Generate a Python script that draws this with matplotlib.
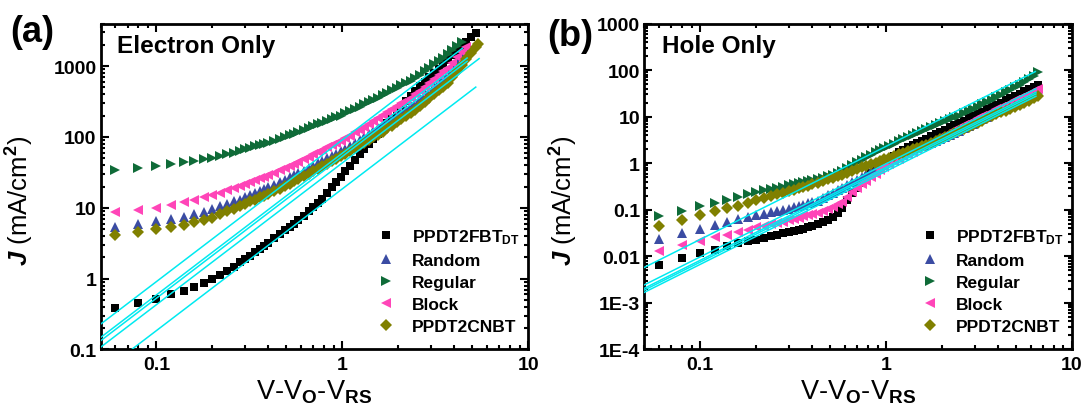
import matplotlib.pyplot as plt
import numpy as np
from matplotlib.ticker import FixedLocator, FixedFormatter, FuncFormatter, LogLocator, NullFormatter

plt.rcParams['font.family'] = ['Liberation Sans', 'DejaVu Sans']
plt.rcParams['font.weight'] = 'bold'
plt.rcParams['mathtext.fontset'] = 'custom'
plt.rcParams['mathtext.rm'] = 'Liberation Sans:bold'
plt.rcParams['mathtext.bf'] = 'Liberation Sans:bold'
plt.rcParams['mathtext.it'] = 'Liberation Sans:italic:bold'
plt.rcParams['mathtext.default'] = 'bf'

labels = [r'PPDT2FBT$_{DT}$', 'Random', 'Regular', 'Block', 'PPDT2CNBT']

# measured voltage points (V - Vo - Vrs)
v_b = [0.06, 0.08, 0.10, 0.12, 0.14, 0.16, 0.18, 0.20, 0.22, 0.24, 0.26, 0.28, 0.30,
       0.32, 0.34, 0.36, 0.38, 0.40, 0.43, 0.46, 0.49, 0.52, 0.55, 0.58,
       0.62, 0.66, 0.70, 0.74, 0.78, 0.83, 0.88, 0.93, 0.98,
       1.04, 1.10, 1.17, 1.24, 1.31, 1.39, 1.47, 1.56,
       1.65, 1.75, 1.85, 1.96, 2.08, 2.20, 2.33,
       2.47, 2.62, 2.78, 2.94, 3.12, 3.30, 3.50, 3.70,
       3.92, 4.15, 4.40, 4.66, 4.94, 5.23, 5.54, 5.87, 6.22, 6.60]
v_a = v_b[:61] + [5.23, 5.35]

# (a) electron only, J in mA/cm2
j_a_fbt = [0.39, 0.45, 0.52, 0.60, 0.67, 0.77, 0.88, 1.0, 1.12, 1.3, 1.48, 1.7, 1.9,
           2.12, 2.38, 2.65, 2.92, 3.2, 3.73, 4.25, 4.8, 5.37, 6.0, 6.7,
           7.75, 9.0, 10.3, 11.7, 13.5, 16.4, 19.5, 23.1, 27.1,
           32.7, 39, 47.4, 56.9, 67.4, 80, 94, 112,
           132, 159, 187, 223, 267, 317, 378,
           450, 520, 600, 695, 800, 920, 1075, 1240,
           1430, 1650, 1915, 2210, 2560, 2960]
j_a_random = [5.4, 5.9, 6.5, 6.9, 7.5, 8.1, 8.8, 9.6, 10.5, 11.4, 12.3, 13.1, 14.1,
              15.2, 16.3, 17.4, 18.5, 19.6, 21.3, 23.0, 24.9, 26.9, 28.9, 30.9,
              33.6, 36.3, 39.3, 42.4, 45.6, 49.7, 53.9, 58.2, 62.5,
              68.1, 74.8, 82.9, 91.3, 100, 110, 121, 134,
              148, 164, 181, 201, 223, 246, 273,
              304, 348, 399, 453, 520, 591, 675, 768,
              927, 1128, 1383, 1682]
j_a_regular = [34.5, 36, 39, 41.5, 44, 46, 48.5, 51, 54, 57, 60, 63.5, 66.7,
               70, 73.5, 76.8, 80, 83.3, 88, 93.7, 99.8, 106, 112, 118,
               126, 134.5, 143, 151, 159.5, 170, 180, 190, 200,
               214.6, 230, 249, 268, 288, 310, 333, 359,
               388, 420, 454, 491, 534, 576, 624,
               681, 762, 852, 948, 1061, 1180, 1320, 1468,
               1667, 1897, 2165]
j_a_block = [8.6, 9.3, 10, 10.9, 11.9, 13.0, 14, 15, 16.3, 17.6, 18.9, 20.2, 21.7,
             23.1, 24.5, 26, 27.4, 28.9, 31.1, 33.7, 36.5, 39.3, 42.1, 45,
             49, 52.9, 57.1, 61.4, 65.7, 71.2, 76.7, 82.4, 88.2,
             95.5, 104.7, 115.9, 127.5, 139.5, 153.6, 168.5, 185.7,
             204, 225, 246, 271, 298, 327, 359,
             399, 453, 515, 581, 661, 746, 846, 956,
             1124, 1332, 1586, 1877]
j_a_cnbt = [4.2, 4.6, 5.0, 5.4, 5.8, 6.3, 6.8, 7.3, 8.1, 8.9, 9.7, 10.5, 11.4,
            12.3, 13.1, 14.0, 14.9, 15.8, 17.1, 18.7, 20.3, 22.0, 23.7, 25.5,
            27.9, 30.4, 33.0, 35.7, 38.5, 42.0, 45.6, 49.4, 53.2,
            57.9, 63.1, 69.4, 75.9, 82.6, 90.5, 98.6, 108,
            119, 132, 145, 161, 179, 197, 218,
            243, 276, 314, 354, 402, 454, 515, 581,
            700, 852, 1044, 1270, 1553, 1893, 2046]
# SCLC fits J = k V^2 : coefficient and last voltage of each line
fit_k_a = [91, 59, 53, 43, 18.5]
fit_end_a = [4.43, 4.7, 4.7, 5.45, 5.23]

# (b) hole only
j_b_fbt = [0.0066, 0.0092, 0.0116, 0.0138, 0.0165, 0.019, 0.021, 0.023, 0.025, 0.027, 0.029, 0.031, 0.033,
           0.035, 0.037, 0.039, 0.042, 0.044, 0.049, 0.054, 0.06, 0.07, 0.085, 0.11,
           0.16, 0.23, 0.3, 0.38, 0.48, 0.62, 0.77, 0.92, 1.08,
           1.25, 1.45, 1.7, 1.95, 2.2, 2.5, 2.75, 3.05,
           3.39, 3.8, 4.22, 4.72, 5.29, 5.89, 6.58,
           7.36, 8.24, 9.23, 10.3, 11.5, 12.8, 14.4, 16.0,
           17.9, 19.9, 22.3, 24.9, 27.8, 31.1, 34.7, 38.8, 43.4, 48.5]
j_b_random = [0.024, 0.031, 0.039, 0.047, 0.056, 0.064, 0.071, 0.078, 0.083, 0.088, 0.093, 0.098, 0.106,
              0.114, 0.121, 0.129, 0.137, 0.145, 0.157, 0.179, 0.204, 0.232, 0.262, 0.293,
              0.338, 0.387, 0.447, 0.514, 0.586, 0.686, 0.794, 0.914, 1.04,
              1.2, 1.33, 1.5, 1.64, 1.8, 1.98, 2.12, 2.3,
              2.48, 2.75, 3.03, 3.35, 3.71, 4.09, 4.52,
              5.0, 5.63, 6.34, 7.09, 7.98, 8.93, 10.0, 11.2,
              12.6, 14.1, 15.9, 17.8, 20.0, 22.4, 25.2, 28.2, 31.7, 35.7]
j_b_regular = [0.074, 0.095, 0.12, 0.143, 0.165, 0.19, 0.215, 0.24, 0.26, 0.28, 0.30, 0.316, 0.335,
               0.354, 0.372, 0.391, 0.409, 0.427, 0.455, 0.49, 0.53, 0.57, 0.62, 0.68,
               0.78, 0.9, 1.05, 1.2, 1.35, 1.52, 1.7, 1.9, 2.1,
               2.35, 2.65, 2.95, 3.3, 3.65, 4.0, 4.4, 4.85,
               5.3, 5.9, 6.5, 7.2, 8.0, 8.8, 9.6,
               10.5, 11.7, 13.0, 14.5, 16.3, 18.3, 20.6, 23.3,
               26.3, 29.6, 33.5, 38, 43, 48.5, 55, 63, 74, 92]
j_b_block = [0.013, 0.0175, 0.021, 0.0255, 0.029, 0.033, 0.037, 0.042, 0.045, 0.049, 0.052, 0.056, 0.06,
             0.064, 0.068, 0.072, 0.076, 0.08, 0.087, 0.095, 0.104, 0.115, 0.13, 0.15,
             0.19, 0.24, 0.3, 0.36, 0.42, 0.5, 0.6, 0.7, 0.82,
             0.95, 1.09, 1.24, 1.4, 1.57, 1.78, 1.99, 2.25,
             2.52, 2.85, 3.2, 3.6, 4.05, 4.55, 5.1,
             5.75, 6.5, 7.3, 8.15, 9.15, 10.2, 11.5, 12.8,
             14.3, 16.0, 17.9, 20.0, 22.4, 25.0, 28.0, 31.3, 35.0, 39.5]
j_b_cnbt = [0.045, 0.061, 0.078, 0.095, 0.108, 0.122, 0.14, 0.16, 0.177, 0.195, 0.213, 0.232, 0.25,
            0.27, 0.29, 0.31, 0.33, 0.35, 0.38, 0.42, 0.455, 0.49, 0.52, 0.56,
            0.61, 0.67, 0.75, 0.81, 0.87, 0.95, 1.03, 1.12, 1.22,
            1.32, 1.41, 1.54, 1.68, 1.82, 1.98, 2.15, 2.32,
            2.51, 2.77, 3.05, 3.35, 3.7, 4.0, 4.4,
            4.85, 5.4, 6.0, 6.7, 7.4, 8.2, 9.2, 10.2,
            11.2, 12.3, 13.5, 14.8, 16.2, 17.7, 19.6, 22.0, 24.6, 27.5]
fit_k_b = [2.3, 0.97, 0.82, 0.75, 0.67]
fit_end_b = [6.35, 6.4, 6.4, 6.4, 6.4]

yticks_b = [1e-4, 1e-3, 0.01, 0.1, 1, 10, 100, 1000]
yticklabels_b = ['1E-4', '1E-3', '0.01', '0.1', '1', '10', '100', '1000']

colors = ['#000000', '#3b4ca3', '#0f6b38', '#ff45b8', '#808000']
markers = ['s', '^', '>', '<', 'D']
msizes = [6, 7.5, 7.5, 7.5, 6.3]

fig = plt.figure(figsize=(10.87, 4.14), dpi=100)
ax_a = fig.add_axes([0.0925, 0.1534, 0.3933, 0.7874])
ax_b = fig.add_axes([0.5925, 0.1534, 0.3937, 0.7874])

panels = [
    (ax_a, v_a, [j_a_fbt, j_a_random, j_a_regular, j_a_block, j_a_cnbt], fit_k_a, fit_end_a),
    (ax_b, v_b, [j_b_fbt, j_b_random, j_b_regular, j_b_block, j_b_cnbt], fit_k_b, fit_end_b),
]

for ax, v, series, ks, ends in panels:
    for j, lab, c, m, ms in zip(series, labels, colors, markers, msizes):
        ax.plot(v[:len(j)], j, linestyle='none', marker=m, ms=ms, color=c,
                markeredgewidth=0, label=lab)
    for k, e in zip(ks, ends):
        xs = np.array([0.045, e])
        ax.plot(xs, k * xs**2, color='#00eaf0', lw=1.1, zorder=5)
    ax.set_xscale('log')
    ax.set_yscale('log')
    ax.set_xlim(0.05, 10)
    ax.xaxis.set_major_formatter(FuncFormatter(lambda val, _: '%g' % val))
    ax.xaxis.set_minor_formatter(NullFormatter())
    ax.tick_params(which='both', direction='in', top=True, right=True, width=1.5,
                   labelsize=14)
    ax.tick_params(which='major', length=6)
    ax.tick_params(which='minor', length=3)
    ax.tick_params(axis='y', pad=3)
    ax.tick_params(axis='x', pad=5)
    for sp in ax.spines.values():
        sp.set_linewidth(2)
    ax.set_xlabel(r'V-V$_{O}$-V$_{RS}$', fontsize=19.5, labelpad=3)
    ax.set_ylabel(r'$\mathit{J}$ (mA/cm$^{2}$)', fontsize=18.5)
    ax.yaxis.set_label_coords(-0.15, 0.46)
    ax.legend(loc='upper left', frameon=False, fontsize=12.5, handlelength=1.0,
              handletextpad=1.0, labelspacing=0.4, borderpad=0, borderaxespad=0,
              bbox_to_anchor=(0.6475, 0.375))

ax_a.set_ylim(0.1, 4000)
ax_a.yaxis.set_major_formatter(FuncFormatter(lambda val, _: '%g' % val))
ax_a.yaxis.set_minor_formatter(NullFormatter())

ax_b.set_ylim(1e-4, 1000)
ax_b.yaxis.set_major_locator(FixedLocator(yticks_b))
ax_b.yaxis.set_major_formatter(FixedFormatter(yticklabels_b))
ax_b.yaxis.set_minor_locator(LogLocator(base=10, subs=np.arange(2, 10), numticks=20))
ax_b.yaxis.set_minor_formatter(NullFormatter())

fig.text(10 / 1087, 1 - 32 / 414, '(a)', fontsize=26, va='center', ha='left')
fig.text(547 / 1087, 1 - 37 / 414, '(b)', fontsize=26, va='center', ha='left')
fig.text(117 / 1087, 1 - 47 / 414, 'Electron Only', fontsize=17.5, va='center', ha='left')
fig.text(662 / 1087, 1 - 47 / 414, 'Hole Only', fontsize=17.5, va='center', ha='left')

fig.savefig('out.png', dpi=100)
